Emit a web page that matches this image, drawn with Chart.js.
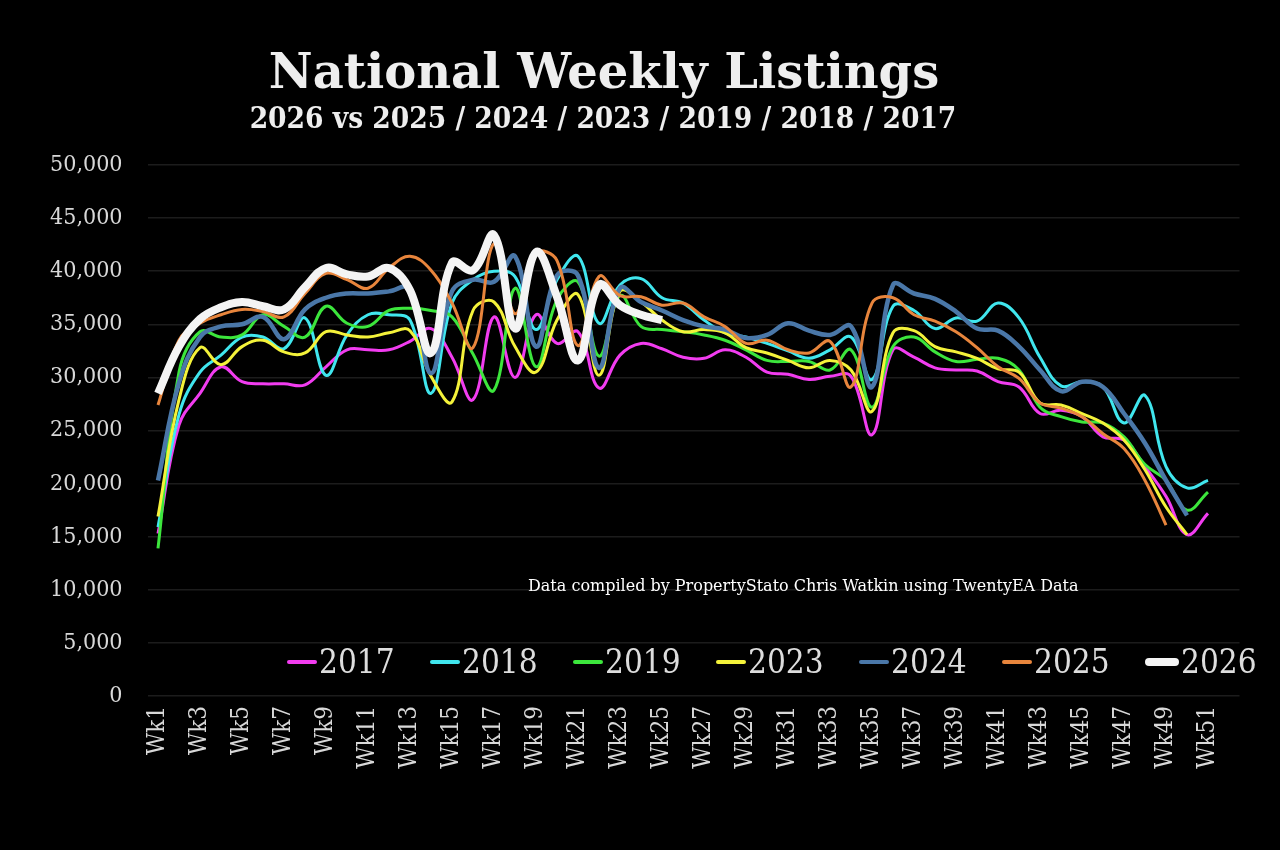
<!DOCTYPE html>
<html>
<head>
<meta charset="utf-8">
<script src="https://cdn.jsdelivr.net/npm/chart.js@4.4.1/dist/chart.umd.min.js"></script>
<style>
  html, body { margin: 0; padding: 0; background: #000; }
  #wrap { position: relative; width: 1280px; height: 850px; background: #000; overflow: hidden; }
  #chart { position: absolute; left: 0; top: 0; }
  .txt { position: absolute; color: #eeeeee; white-space: nowrap; }
  #title { left: 0; width: 1208px; top: 43px; text-align: center; font: bold 48px "DejaVu Serif", serif; }
  #subtitle { left: 0; width: 1206px; top: 100px; text-align: center; font: bold 29.5px "DejaVu Serif Condensed", "DejaVu Serif", serif; }
  #note { left: 528px; top: 576px; font: 16px "DejaVu Serif", serif; color: #fff; }
  #legend { position: absolute; left: 287px; top: 642px; display: flex; }
  .item { display: flex; align-items: center; width: 143px; }
  .mark { display: inline-block; width: 30px; height: 4px; border-radius: 2px; margin-right: 2px; }
  .lab { font: 33px "DejaVu Serif Condensed", "DejaVu Serif", serif; color: #dddddd; }
</style>
</head>
<body>
<div id="wrap">
  <canvas id="chart" width="1280" height="850"></canvas>
  <div class="txt" id="title">National Weekly Listings</div>
  <div class="txt" id="subtitle">2026 vs 2025 / 2024 / 2023 / 2019 / 2018 / 2017</div>
  <div class="txt" id="note">Data compiled by PropertyStato Chris Watkin using TwentyEA Data</div>
  <div id="legend"></div>
</div>
<script>
const weeks = ['Wk1','Wk2','Wk3','Wk4','Wk5','Wk6','Wk7','Wk8','Wk9','Wk10',
  'Wk11','Wk12','Wk13','Wk14','Wk15','Wk16','Wk17','Wk18','Wk19','Wk20',
  'Wk21','Wk22','Wk23','Wk24','Wk25','Wk26','Wk27','Wk28','Wk29','Wk30',
  'Wk31','Wk32','Wk33','Wk34','Wk35','Wk36','Wk37','Wk38','Wk39','Wk40',
  'Wk41','Wk42','Wk43','Wk44','Wk45','Wk46','Wk47','Wk48','Wk49','Wk50',
  'Wk51','Wk52']

// weekly listings, in thousands
const y2017 = [15.3, 25.5, 28.5, 31.0, 29.6, 29.4, 29.4, 29.3, 31.0, 32.6,
  32.6, 32.6, 33.4, 34.6, 31.9, 27.9, 35.7, 30.0, 35.9, 33.2,
  34.3, 29.0, 32.1, 33.2, 32.7, 31.9, 31.8, 32.6, 31.9, 30.5,
  30.3, 29.8, 30.1, 30.1, 24.6, 32.6, 31.9, 30.9, 30.7, 30.6,
  29.6, 29.1, 26.6, 26.9, 26.3, 24.4, 24.1, 21.6, 18.8, 15.2, 17.2]
const y2018 = [15.9, 26.5, 30.5, 32.1, 33.8, 33.8, 32.7, 35.6, 30.2, 34.0,
  35.9, 35.9, 35.4, 28.5, 37.0, 39.2, 40.0, 39.5, 34.5, 39.2,
  41.4, 35.1, 38.7, 39.3, 37.5, 37.0, 35.4, 34.2, 33.8, 33.2,
  32.5, 31.8, 32.6, 33.8, 29.8, 36.7, 36.3, 34.6, 35.6, 35.3,
  37.0, 35.6, 31.9, 29.2, 29.6, 29.1, 25.7, 28.3, 21.6, 19.6, 20.3]
const y2019 = [13.9, 30.5, 34.3, 33.8, 34.0, 35.9, 34.8, 33.8, 36.7, 35.1,
  34.8, 36.3, 36.5, 36.3, 35.7, 32.2, 28.8, 38.4, 31.0, 37.3,
  39.0, 32.0, 37.7, 34.8, 34.5, 34.3, 34.0, 33.5, 32.6, 31.6,
  31.5, 31.5, 30.7, 32.6, 27.2, 32.9, 33.8, 32.4, 31.5, 31.7,
  31.8, 30.7, 27.2, 26.3, 25.8, 25.7, 24.4, 21.8, 20.3, 17.5, 19.2]
const y2023 = [16.9, 27.9, 32.8, 31.2, 32.9, 33.5, 32.4, 32.3, 34.3, 34.0,
  33.8, 34.2, 34.4, 30.1, 27.7, 36.3, 37.1, 32.9, 30.5, 35.4,
  37.8, 30.2, 38.1, 37.1, 35.4, 34.3, 34.5, 34.2, 32.8, 32.3,
  31.6, 30.9, 31.6, 30.7, 26.8, 34.2, 34.4, 32.9, 32.4, 31.8,
  30.8, 30.5, 27.6, 27.4, 26.6, 25.7, 24.1, 21.3, 17.8, 15.2]
const y2024 = [20.3, 29.5, 33.8, 34.8, 35.0, 35.7, 33.6, 36.4, 37.5, 37.9,
  37.9, 38.1, 38.4, 30.4, 38.1, 39.2, 39.0, 41.4, 32.9, 39.6,
  39.6, 30.9, 38.4, 37.1, 36.3, 35.4, 34.8, 34.5, 33.7, 34.0,
  35.1, 34.4, 34.0, 34.8, 29.1, 38.7, 37.9, 37.4, 36.2, 34.6,
  34.4, 32.9, 30.7, 28.7, 29.6, 29.1, 26.6, 23.8, 20.3, 17.0]
const y2025 = [27.4, 33.5, 35.1, 35.9, 36.4, 36.2, 35.7, 37.9, 39.8, 39.2,
  38.4, 40.3, 41.4, 40.1, 37.0, 32.8, 42.6, 36.0, 41.7, 41.0,
  33.0, 39.5, 37.7, 37.6, 36.8, 37.0, 35.7, 34.8, 33.2, 33.5,
  32.6, 32.3, 33.4, 29.1, 37.0, 37.5, 35.9, 35.3, 34.3, 32.8,
  31.0, 29.9, 27.6, 27.1, 26.3, 24.7, 23.3, 20.3, 16.1]
const y2026 = [28.5, 32.9, 35.5, 36.6, 37.1, 36.7, 36.4, 38.5, 40.3, 39.7,
  39.5, 40.3, 38.2, 32.3, 40.8, 40.1, 43.4, 34.6, 41.8, 37.6,
  31.6, 38.7, 36.8, 35.9, 35.4]

const years = ['2017', '2018', '2019', '2023', '2024', '2025', '2026']
const series = [y2017, y2018, y2019, y2023, y2024, y2025, y2026]
const colors = ['#f23cf0', '#40e6ee', '#3ce63c', '#f4f23a', '#4a77a8', '#e8853c', '#f4f4f4']
const widths = [3, 3, 3, 3, 4.5, 3, 8]

const datasets = years.map((yr, i) => ({
  label: yr,
  data: series[i].map(v => v * 1000),
  borderColor: colors[i],
  backgroundColor: colors[i],
  borderWidth: widths[i],
  pointRadius: 0,
  tension: 0.4,
  fill: false,
  order: years.length - i
}))

const fontFamily = '"DejaVu Serif Condensed", "DejaVu Serif", serif'

new Chart(document.getElementById('chart'), {
  type: 'line',
  data: { labels: weeks, datasets },
  options: {
    responsive: false,
    animation: false,
    layout: { padding: { top: 165, right: 40.5, bottom: 0, left: 0 } },
    plugins: { legend: { display: false }, tooltip: { enabled: false } },
    scales: {
      x: {
        offset: true,
        grid: { display: false },
        border: { display: false },
        ticks: {
          color: '#d8d8d8', font: { family: fontFamily, size: 24 }, autoSkip: false,
          minRotation: 90, maxRotation: 90, padding: 2,
          callback: (v, i) => i % 2 === 0 ? weeks[i] : ''
        },
        afterFit: s => { s.height = 154 }
      },
      y: {
        min: 0, max: 50000,
        grid: { color: '#1c1c1c', lineWidth: 1.5, drawTicks: false },
        border: { display: false },
        ticks: {
          stepSize: 5000, color: '#d8d8d8', font: { family: fontFamily, size: 23 }, padding: 25,
          callback: v => v.toLocaleString('en-US')
        },
        afterFit: s => { s.width = 147.5 }
      }
    }
  }
})

// legend
const legend = document.getElementById('legend')
legend.innerHTML = years.map((yr, i) => `
  <div class="item">
    <span class="mark" style="background:${colors[i]};${i === 6 ? 'height:8px;border-radius:4px;width:34px;' : ''}"></span>
    <span class="lab">${yr}</span>
  </div>`).join('')
</script>
</body>
</html>
